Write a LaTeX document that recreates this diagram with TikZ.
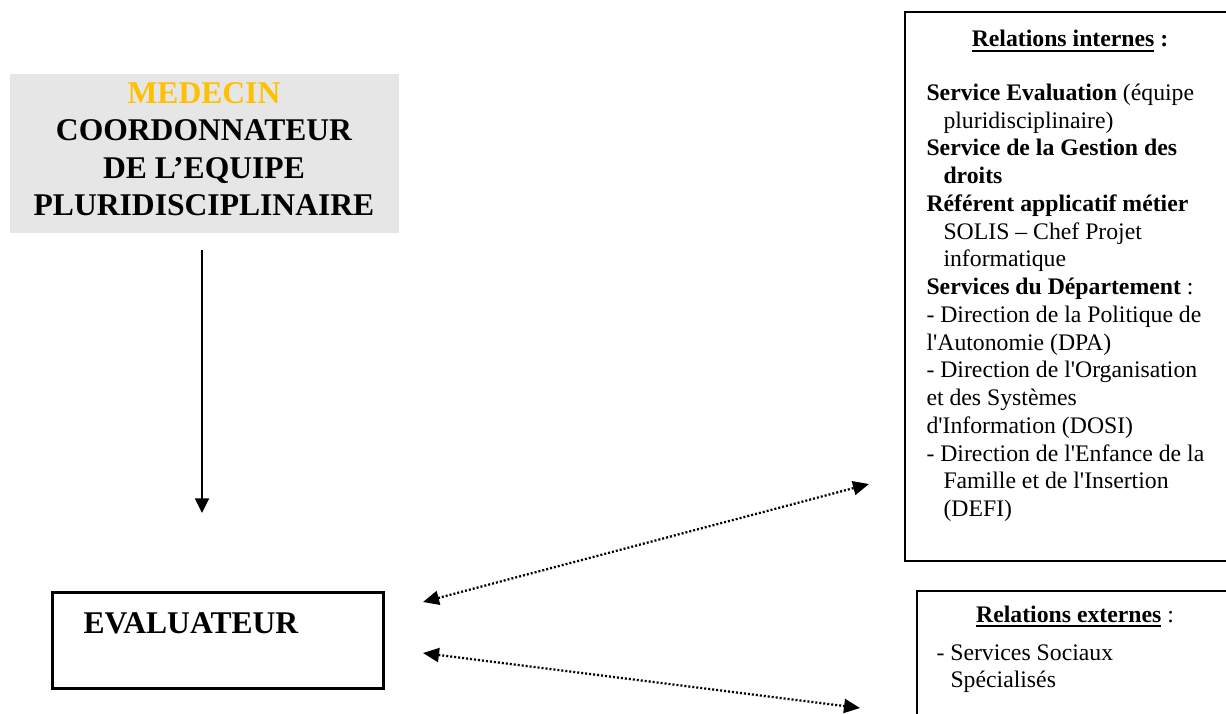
\documentclass[tikz,border=0pt]{standalone}
\usepackage{fontspec}
\setmainfont{Liberation Serif}
\usetikzlibrary{arrows.meta}

\definecolor{gristitre}{RGB}{230,230,230}
\definecolor{ormedecin}{RGB}{255,192,0}
\newcommand{\grandtxt}{\fontsize{23.7}{28}\selectfont}
\newcommand{\courtxt}{\fontsize{17.8}{20.8}\selectfont}
\newcommand{\retrait}{\hspace*{12.75pt}}
\newcommand{\apos}{\textquotesingle}
\newcommand{\souligne}[1]{\setbox0\hbox{#1}\rlap{\rule[-3.7pt]{\wd0}{1.4pt}}\box0\relax}

\tikzset{every picture/.style={line width=0.75pt}}
\tikzset{
  fleche/.style={line width=1.5pt,-{Triangle[length=11pt,width=10.5pt]}},
  pointille/.style={line width=1.7pt,dash pattern=on 1.5pt off 1.5pt,{Triangle[length=12pt,width=10.5pt]}-{Triangle[length=12pt,width=10.5pt]}}
}

\begin{document}
\begin{tikzpicture}[x=0.75pt,y=0.75pt,yscale=-1,xscale=1]
\useasboundingbox (0,0) rectangle (1226,713);
\clip (0,0) rectangle (1226,713);

%Shape: Rectangle [id:coordonnateur]
\fill [color=gristitre] (10,74) rectangle (399,233);
%Shape: Rectangle [id:evaluateur]
\draw [line width=2.25pt] (52,592) rectangle (383,688);
%Shape: Rectangle [id:internes]
\draw [line width=1.5pt] (905,12) rectangle (1240,561);
%Shape: Rectangle [id:externes]
\draw [line width=1.5pt] (917,591) rectangle (1240,730);

% Text Node
\draw (204,82) node [anchor=north][inner sep=0pt] [font=\grandtxt\bfseries] [align=center] (coord) {\textcolor{ormedecin}{MEDECIN}\\COORDONNATEUR\\DE L’EQUIPE\\PLURIDISCIPLINAIRE};
% Text Node
\draw (83,633) node [anchor=base west][inner sep=0pt] [font=\grandtxt\bfseries] (eval) {EVALUATEUR};
% Text Node
\draw (1070,47) node [anchor=base][inner sep=0pt] [font=\courtxt\bfseries] (titreint) {\souligne{Relations internes} :};
% Text Node
\draw (926,83.5) node [anchor=north west][inner sep=0pt] [font=\courtxt] [align=left] (listeint) {%
\textbf{Service Evaluation} (équipe\\
\retrait pluridisciplinaire)\\
\textbf{Service de la Gestion des}\\
\retrait\textbf{droits}\\
\textbf{Référent applicatif métier}\\
\retrait SOLIS – Chef Projet\\
\retrait informatique\\
\textbf{Services du Département} :\\
- Direction de la Politique de\\
l\apos Autonomie (DPA)\\
- Direction de l\apos Organisation\\
et des Systèmes\\
d\apos Information (DOSI)\\
- Direction de l\apos Enfance de la\\
\retrait Famille et de l\apos Insertion\\
\retrait (DEFI)};
% Text Node
\draw (1075,622) node [anchor=base][inner sep=0pt] [font=\courtxt] (titreext) {\textbf{\souligne{Relations externes}} :};
% Text Node
\draw (936,644) node [anchor=north west][inner sep=0pt] [font=\courtxt] [align=left] (listeext) {%
- Services Sociaux\\
\hspace*{10.5pt}Spécialisés};

%Straight Lines [id:descente]
\coordinate (hautfl) at (202,250);
\coordinate (basfl) at (202,513);
\draw [fleche] (hautfl) -- (basfl);
%Straight Lines [id:lienint]
\coordinate (gint) at (423,602);
\coordinate (dint) at (869,484);
\draw [pointille] (gint) -- (dint);
%Straight Lines [id:lienext]
\coordinate (gext) at (423,653);
\coordinate (dext) at (860,708);
\draw [pointille] (gext) -- (dext);

\end{tikzpicture}
\end{document}
